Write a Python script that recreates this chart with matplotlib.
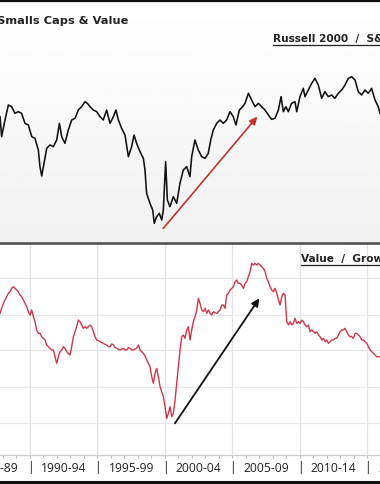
import numpy as np
import matplotlib
matplotlib.use("Agg")
import matplotlib.pyplot as plt
from matplotlib.lines import Line2D

# ---------------- data ----------------
# Russell 2000 / S&P 500 relative ratio (decimal years)
TOP_YEARS = [1987.78, 1987.90, 1988.15, 1988.40, 1988.64, 1988.89, 1989.14, 1989.38, 1989.63, 1989.88,
             1990.13, 1990.37, 1990.62, 1990.74, 1990.87, 1991.04, 1991.24, 1991.48, 1991.73, 1991.98,
             1992.18, 1992.35, 1992.59, 1992.84, 1993.09, 1993.34, 1993.58, 1993.83, 1994.08, 1994.25,
             1994.45, 1994.69, 1994.94, 1995.19, 1995.43, 1995.68, 1995.93, 1996.18, 1996.37, 1996.55,
             1996.79, 1997.04, 1997.29, 1997.53, 1997.71, 1997.90, 1998.15, 1998.40, 1998.52, 1998.64,
             1998.89, 1999.09, 1999.21, 1999.38, 1999.58, 1999.76, 1999.88, 2000.05, 2000.18, 2000.37,
             2000.62, 2000.87, 2001.11, 2001.36, 2001.61, 2001.85, 2001.98, 2002.22, 2002.47, 2002.72,
             2002.97, 2003.21, 2003.39, 2003.58, 2003.83, 2004.08, 2004.32, 2004.57, 2004.82, 2005.06,
             2005.26, 2005.51, 2005.76, 2005.93, 2006.18, 2006.42, 2006.67, 2006.92, 2007.16, 2007.41,
             2007.66, 2007.90, 2008.15, 2008.40, 2008.60, 2008.77, 2008.96, 2009.14, 2009.38, 2009.63,
             2009.76, 2010.00, 2010.25, 2010.37, 2010.62, 2010.87, 2011.11, 2011.36, 2011.61, 2011.85,
             2012.10, 2012.35, 2012.59, 2012.84, 2013.09, 2013.34, 2013.58, 2013.83, 2014.08, 2014.32,
             2014.57, 2014.82, 2015.06, 2015.31, 2015.56, 2015.80, 2015.93]
TOP_RATIO = [0.46, 0.40, 0.45, 0.495, 0.49, 0.47, 0.475, 0.47, 0.44, 0.435,
             0.40, 0.395, 0.36, 0.31, 0.282, 0.32, 0.365, 0.375, 0.37, 0.39,
             0.44, 0.40, 0.38, 0.42, 0.45, 0.455, 0.48, 0.49, 0.505, 0.50,
             0.49, 0.48, 0.475, 0.46, 0.45, 0.48, 0.44, 0.46, 0.48, 0.45,
             0.425, 0.405, 0.34, 0.37, 0.405, 0.38, 0.355, 0.335, 0.30, 0.23,
             0.20, 0.18, 0.14, 0.16, 0.17, 0.15, 0.18, 0.325, 0.21, 0.19,
             0.22, 0.20, 0.26, 0.30, 0.31, 0.28, 0.34, 0.39, 0.36, 0.34,
             0.335, 0.35, 0.39, 0.42, 0.44, 0.45, 0.44, 0.45, 0.475, 0.46,
             0.435, 0.48, 0.49, 0.50, 0.53, 0.51, 0.49, 0.50, 0.49, 0.48,
             0.465, 0.452, 0.455, 0.48, 0.52, 0.475, 0.49, 0.475, 0.50, 0.505,
             0.475, 0.52, 0.545, 0.52, 0.54, 0.56, 0.575, 0.555, 0.515, 0.535,
             0.52, 0.525, 0.515, 0.53, 0.54, 0.555, 0.575, 0.58, 0.57, 0.535,
             0.525, 0.54, 0.53, 0.545, 0.51, 0.49, 0.47]

# Value / Growth relative ratio, sampled every ~45 days from late 1987
VG_START_YEAR = 1987.78
VG_STEP_YEARS = 0.1235
VG_RATIO = [1.010, 1.025, 1.040, 1.050, 1.060, 1.070, 1.075, 1.085, 1.090, 1.085,
            1.080, 1.075, 1.065, 1.060, 1.050, 1.040, 1.030, 1.015, 1.005, 1.020,
            1.000, 0.985, 0.960, 0.950, 0.950, 0.940, 0.935, 0.930, 0.915, 0.910,
            0.905, 0.900, 0.900, 0.880, 0.860, 0.880, 0.895, 0.900, 0.910, 0.905,
            0.895, 0.890, 0.885, 0.910, 0.940, 0.955, 0.970, 0.990, 0.985, 0.975,
            0.965, 0.970, 0.965, 0.970, 0.975, 0.970, 0.955, 0.940, 0.930, 0.928,
            0.925, 0.922, 0.920, 0.917, 0.915, 0.910, 0.910, 0.918, 0.915, 0.908,
            0.905, 0.902, 0.900, 0.903, 0.905, 0.900, 0.900, 0.907, 0.905, 0.900,
            0.900, 0.903, 0.905, 0.915, 0.900, 0.895, 0.890, 0.882, 0.870, 0.860,
            0.850, 0.820, 0.800, 0.830, 0.845, 0.820, 0.790, 0.775, 0.760, 0.730,
            0.695, 0.710, 0.730, 0.700, 0.710, 0.750, 0.800, 0.850, 0.900, 0.940,
            0.945, 0.935, 0.960, 0.970, 0.930, 0.960, 0.985, 1.000, 1.020, 1.055,
            1.040, 1.020, 1.015, 1.025, 1.010, 1.020, 1.010, 1.005, 1.015, 1.012,
            1.010, 1.015, 1.020, 1.035, 1.035, 1.025, 1.065, 1.070, 1.080, 1.085,
            1.090, 1.105, 1.110, 1.100, 1.100, 1.095, 1.085, 1.100, 1.105, 1.120,
            1.135, 1.160, 1.155, 1.160, 1.155, 1.160, 1.155, 1.150, 1.145, 1.135,
            1.115, 1.105, 1.090, 1.080, 1.075, 1.085, 1.070, 1.050, 1.035, 1.060,
            1.070, 1.065, 0.985, 0.975, 0.985, 0.975, 0.980, 0.995, 0.980, 0.985,
            0.980, 0.990, 0.985, 0.975, 0.970, 0.975, 0.955, 0.960, 0.955, 0.950,
            0.955, 0.945, 0.940, 0.930, 0.935, 0.925, 0.930, 0.920, 0.925, 0.930,
            0.930, 0.935, 0.935, 0.945, 0.955, 0.960, 0.960, 0.965, 0.955, 0.945,
            0.940, 0.940, 0.935, 0.950, 0.950, 0.945, 0.940, 0.930, 0.930, 0.925,
            0.920, 0.910, 0.900, 0.895, 0.890, 0.885, 0.880, 0.880, 0.880]
VG_YEARS = VG_START_YEAR + VG_STEP_YEARS * np.arange(len(VG_RATIO))

PERIOD_LABELS = ["1985-89", "1990-94", "1995-99", "2000-04", "2005-09", "2010-14", "2015-19"]
PERIOD_STARTS = [1985, 1990, 1995, 2000, 2005, 2010, 2015]

# trend arrows (start/end in data terms)
TOP_ARROW = ((1999.88, 0.125), (2006.84, 0.46))
VG_ARROW = ((2000.74, 0.68), (2006.99, 1.055))

TITLE = "Smalls Caps & Value"
TOP_LABEL = "Russell 2000  /  S&P 500"
VG_LABEL = "Value  /  Growth"

# ---------------- figure ----------------
W, H = 380, 484
fig = plt.figure(figsize=(W / 100, H / 100), dpi=100)
fig.patch.set_facecolor("white")

XLIM = (1987.78, 2015.93)

def fy(px):  # figure fraction from pixel row
    return 1 - px / H

# top panel
ax1 = fig.add_axes([0, fy(242), 1, (242 - 2) / H])
grad = np.linspace(1.0, 0.945, 256).reshape(-1, 1)
ax1.imshow(grad, cmap="gray", vmin=0, vmax=1, aspect="auto",
           extent=[0, 1, 0, 1], transform=ax1.transAxes, zorder=0)
ax1.plot(TOP_YEARS, TOP_RATIO, color="#111111", lw=1.15, zorder=3)
ax1.annotate("", xy=TOP_ARROW[1], xytext=TOP_ARROW[0],
             arrowprops=dict(arrowstyle="-|>,head_length=0.45,head_width=0.22",
                             color="#c0342c", lw=1.2, shrinkA=0, shrinkB=0), zorder=4)
ax1.set_xlim(*XLIM)
ax1.set_ylim(0.084, 0.804)
ax1.axis("off")

# bottom panel
ax2 = fig.add_axes([0, fy(455), 1, (455 - 244) / H])
ax2.set_facecolor("white")
for yr in PERIOD_STARTS:
    ax2.axvline(yr, color="#e4e4e4", lw=0.9, zorder=1)
for gv in [1.116, 1.005, 0.900, 0.789, 0.681]:
    ax2.axhline(gv, color="#e8e8e8", lw=0.9, zorder=1)
ax2.plot(VG_YEARS, VG_RATIO, color="#d0374a", lw=1.0, zorder=3)
ax2.annotate("", xy=VG_ARROW[1], xytext=VG_ARROW[0],
             arrowprops=dict(arrowstyle="-|>,head_length=0.45,head_width=0.22",
                             color="#111111", lw=1.3, shrinkA=0, shrinkB=0), zorder=4)
for s in ["top", "left", "right"]:
    ax2.spines[s].set_visible(False)
ax2.spines["bottom"].set_color("#cccccc")
ax2.spines["bottom"].set_linewidth(0.9)
ax2.set_yticks([])
ax2.set_xticks(np.arange(1985, 2019, 1))
ax2.tick_params(axis="x", length=2.5, width=0.8, color="#bbbbbb", labelbottom=False)
ax2.set_xlim(*XLIM)
ax2.set_ylim(0.585, 1.218)

# period labels + separators
lab_y = fy(468)
for start, lab in zip(PERIOD_STARTS, PERIOD_LABELS):
    xc = (start + 2.5 - XLIM[0]) / (XLIM[1] - XLIM[0])
    fig.text(xc, lab_y, lab, ha="center", va="center", fontsize=8.7,
             family="Open Sans", color="#222222")
    xs = (start - XLIM[0]) / (XLIM[1] - XLIM[0])
    fig.text(xs, lab_y, "|", ha="center", va="center", fontsize=8.7,
             family="Open Sans", color="#222222")

# titles
fig.text(-3 / W, fy(21), TITLE, ha="left", va="center", fontsize=8.2,
         fontweight="bold", family="DejaVu Sans", color="#222222")
fig.text(273 / W, fy(39), TOP_LABEL, ha="left", va="center", fontsize=7.6,
         fontweight="bold", family="DejaVu Sans", color="#222222")
fig.add_artist(Line2D([273 / W, 1.0], [fy(45), fy(45)], color="#222222", lw=0.9))
fig.text(301 / W, fy(259), VG_LABEL, ha="left", va="center", fontsize=7.6,
         fontweight="bold", family="DejaVu Sans", color="#222222")
fig.add_artist(Line2D([301 / W, 1.0], [fy(265), fy(265)], color="#222222", lw=0.9))

# borders
fig.add_artist(Line2D([0, 1], [fy(1), fy(1)], color="#111111", lw=1.6))
fig.add_artist(Line2D([0, 1], [fy(243), fy(243)], color="#4a4a4a", lw=1.8))
fig.add_artist(Line2D([0, 1], [fy(482), fy(482)], color="#111111", lw=2.2))

fig.savefig("out.png", dpi=100, facecolor="white")
